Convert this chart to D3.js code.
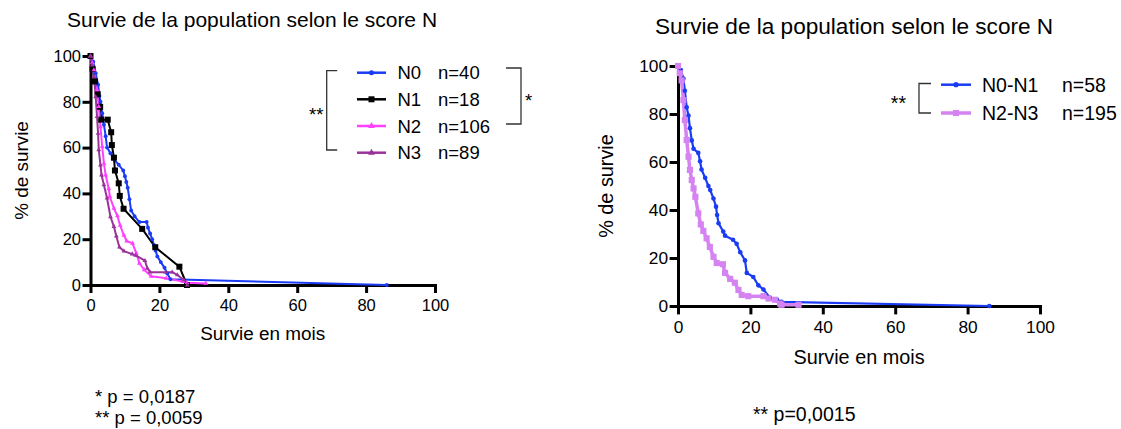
<!DOCTYPE html>
<html><head><meta charset="utf-8">
<script src="https://cdn.jsdelivr.net/npm/d3@7"></script>
<style>
body{margin:0;background:#fff;}
text{font-family:"Liberation Sans",Arial,Helvetica,sans-serif;fill:#000;}
</style>
</head><body>
<svg id="c" width="1121" height="429"></svg>
<script>
// ---------- data ----------
const xTicks = [0, 20, 40, 60, 80, 100];
const yTicks = [0, 20, 40, 60, 80, 100];
const titleText = "Survie de la population selon le score N";
const xLabel = "Survie en mois";
const yLabel = "% de survie";

const leftNames  = ["N0", "N1", "N2", "N3"];
const leftCounts = ["n=40", "n=18", "n=106", "n=89"];
const rightNames  = ["N0-N1", "N2-N3"];
const rightCounts = ["n=58", "n=195"];
const leftNotes  = ["* p = 0,0187", "** p = 0,0059"];
const rightNotes = ["** p=0,0015"];

// survival curves [months, % survival]
const leftN0 = [[0,100],[0.8,97.5],[1.5,92.5],[2.2,87.5],[2.6,82.5],[2.9,80],[3.4,75],[3.9,70],[4.4,65],[4.8,60],[5.8,57.5],[6.8,55],[8.2,52.5],[9.5,50],[10,47.5],[10.4,45],[10.8,42.5],[11.3,37.5],[11.8,32.5],[12.8,30],[14.2,27.5],[16.3,27.5],[16.7,25],[17.3,22.5],[17.9,20],[18.4,17.5],[18.9,15],[19.4,12.5],[20.4,10],[21.5,7.5],[22.3,5],[23.2,2.5],[86,0]];
const leftN1 = [[0,100],[0.6,94.4],[1.3,88.9],[2.1,83.3],[2.8,77.8],[3.1,72.2],[5,72.2],[6,66.7],[6.2,61.1],[6.8,55.6],[7.1,50],[8.2,44.4],[8.5,38.9],[9.6,33.3],[15,24.5],[18.8,16.5],[25.8,8],[28,0]];
const leftN2 = [[0,100],[0.5,97],[1,93.9],[1.9,85.2],[2.4,77.9],[2.9,69.1],[3.4,60.4],[3.9,53.1],[4.4,48],[5.3,42],[5.6,38.6],[6.8,33.5],[7.8,30.2],[8.6,26],[9.7,21.7],[10.5,19.2],[12.2,18.2],[13.3,13.8],[14.2,9.5],[15.6,6.6],[17.6,3.8],[22,2.9],[26.8,1.5],[28,1],[33.5,0.7]];
const leftN3 = [[0,100],[0.5,96],[1,91],[1.5,82.2],[1.9,73.5],[2.2,66.2],[2.4,59],[2.9,52.4],[3.2,48],[3.9,43.7],[4.8,37.9],[5.8,29.8],[6.8,25.5],[7.5,21.3],[8.4,16.5],[9.7,14.8],[12.1,13.5],[13.1,12.9],[15.8,10.6],[16.5,7.3],[17.3,5.6],[21.8,5.6],[23.7,5.6],[25.2,4.4],[27.1,2.2],[28.1,0]];
const rightN01 = [[0,100],[0.8,98.3],[1.5,94.8],[1.9,89.7],[2.4,82.8],[2.9,79.3],[3.3,74.1],[3.8,69],[4.3,65.5],[5.6,63.8],[6.1,60.3],[6.5,56.9],[7.5,53.4],[8.4,50],[8.9,48.3],[9.8,44.8],[10.5,41.4],[10.8,37.9],[11.2,34.5],[12.5,31],[13,29.3],[15.2,27.6],[16.2,25.9],[17.2,22.4],[18.5,19],[19,13.8],[20.8,12.1],[22.2,8.6],[23.6,6.9],[25.4,3.4],[27.3,2.7],[28.6,1.7],[86,0]];
const rightN23 = [[0,100],[0.5,97],[1,94],[1.5,85.8],[1.9,77.5],[2.4,69.2],[2.9,62.2],[3.3,56.7],[3.8,52.5],[4.3,49],[4.8,45.5],[5.6,38.6],[6.3,34],[7,31.3],[7.9,28.2],[8.8,24.6],[9.8,20.5],[10.7,17.9],[12.4,17.4],[13,13.8],[14.4,11.3],[15.7,9.7],[16.7,6.7],[17.6,4.6],[19.4,4.1],[23.6,4.1],[25,3.1],[26.8,2.6],[28.2,1],[28.6,0.5],[33.3,0.5]];

// ---------- drawing ----------
const svg = d3.select("#c");

const leftSeries = [
  {data: leftN0, color: "#1a3cf5", width: 2,   sym: d3.symbolCircle, size: 12},
  {data: leftN1, color: "#000000", width: 2,   sym: d3.symbolSquare, size: 36},
  {data: leftN2, color: "#ff40ff", width: 2,   sym: d3.symbolTriangle, size: 10},
  {data: leftN3, color: "#993399", width: 2,   sym: d3.symbolTriangle, size: 10}
];
const rightSeries = [
  {data: rightN01, color: "#1a3cf5", width: 2.2, sym: d3.symbolCircle, size: 16},
  {data: rightN23, color: "#d683f2", width: 3.5, sym: d3.symbolSquare, size: 36}
];

function drawChart(cfg) {
  const k = cfg.k;
  const x = d3.scaleLinear().domain([0, 100]).range([cfg.x0, cfg.x1]);
  const y = d3.scaleLinear().domain([0, 100]).range([cfg.y0, cfg.y1]);
  const g = svg.append("g");
  const tickFont = 16.5 * k;

  const xa = g.append("g").attr("transform", `translate(0,${cfg.y0})`)
    .call(d3.axisBottom(x).tickValues(xTicks).tickSize(8 * k).tickSizeOuter(0).tickPadding(6 * k));
  const ya = g.append("g").attr("transform", `translate(${cfg.x0},0)`)
    .call(d3.axisLeft(y).tickValues(yTicks).tickSize(8 * k).tickSizeOuter(0).tickPadding(1.5 * k));
  [xa, ya].forEach(a => {
    a.select(".domain").attr("stroke", "#000").attr("stroke-width", 3).attr("stroke-linecap", "square");
    a.selectAll(".tick line").attr("stroke", "#000").attr("stroke-width", 3);
    a.selectAll(".tick text").style("font-size", tickFont + "px")
      .style("font-family", '"Liberation Sans",Arial,sans-serif').attr("fill", "#000");
  });

  // titles
  const cx = (cfg.x0 + cfg.x1) / 2;
  g.append("text").attr("x", cfg.title.x).attr("y", cfg.title.y)
    .attr("text-anchor", "start").style("font-size", cfg.title.font + "px").text(titleText);
  g.append("text").attr("x", cx).attr("y", cfg.y0 + 55 * k)
    .attr("text-anchor", "middle").style("font-size", (18.9 * k) + "px").text(xLabel);
  const cy = (cfg.y0 + cfg.y1) / 2;
  const yx = cfg.x0 - 69 * k;
  g.append("text").attr("transform", `translate(${yx},${cy}) rotate(-90)`)
    .attr("text-anchor", "middle").attr("dy", "0.35em")
    .style("font-size", (18.9 * k) + "px").text(yLabel);

  // curves
  const line = d3.line().x(d => x(d[0])).y(d => y(d[1]));
  cfg.series.forEach(s => {
    g.append("path").datum(s.data).attr("d", line)
      .attr("fill", "none").attr("stroke", s.color).attr("stroke-width", s.width)
      .attr("stroke-linejoin", "round");
  });
  cfg.series.forEach(s => {
    g.append("g").selectAll("path").data(s.data).join("path")
      .attr("transform", d => `translate(${x(d[0])},${y(d[1])})`)
      .attr("d", d3.symbol().type(s.sym).size(s.size * k))
      .attr("fill", s.color);
  });

  // legend
  const L = cfg.legend;
  L.rows.forEach((ry, i) => {
    const s = cfg.series[i];
    g.append("line").attr("x1", L.lx0).attr("x2", L.lx1).attr("y1", ry).attr("y2", ry)
      .attr("stroke", s.color).attr("stroke-width", Math.max(2.5, s.width));
    g.append("path").attr("transform", `translate(${(L.lx0 + L.lx1) / 2},${ry})`)
      .attr("d", d3.symbol().type(s.sym).size(Math.max(s.size, 20) * k)).attr("fill", s.color);
    g.append("text").attr("x", L.tx).attr("y", ry + 0.36 * L.font)
      .style("font-size", L.font + "px").text(L.names[i]);
    g.append("text").attr("x", L.nx).attr("y", ry + 0.36 * L.font)
      .style("font-size", L.font + "px").text(L.counts[i]);
  });
  L.brackets.forEach(b => {
    const dir = b.side === "left" ? 1 : -1;
    g.append("path")
      .attr("d", `M${b.x + dir * b.w},${b.y0}H${b.x}V${b.y1}H${b.x + dir * b.w}`)
      .attr("fill", "none").attr("stroke", "#333").attr("stroke-width", 1.3);
    g.append("text").attr("x", b.lx).attr("y", (b.y0 + b.y1) / 2 + b.dy)
      .attr("text-anchor", b.side === "left" ? "end" : "start")
      .style("font-size", L.font + "px").text(b.label);
  });

  // notes
  cfg.notes.texts.forEach((t, i) => {
    g.append("text").attr("x", cfg.notes.x).attr("y", cfg.notes.y[i])
      .style("font-size", cfg.notes.font + "px").text(t);
  });
}

drawChart({
  k: 1, x0: 90.5, x1: 435, y0: 285, y1: 56, series: leftSeries,
  title: {x: 67, y: 27, font: 21},
  legend: {
    rows: [72.7, 99.3, 126, 152.7], lx0: 357, lx1: 386, tx: 397.5, nx: 438, font: 18.5,
    names: leftNames, counts: leftCounts,
    brackets: [
      {side: "left", x: 326.7, w: 10.5, y0: 70.7, y1: 150, lx: 323.5, dy: 11, label: "**"},
      {side: "right", x: 521, w: 15, y0: 68, y1: 124, lx: 525, dy: 11, label: "*"}
    ]
  },
  notes: {x: 95, y: [402.5, 423.5], font: 18.5, texts: leftNotes}
});

drawChart({
  k: 1.05, x0: 678, x1: 1040, y0: 306, y1: 66, series: rightSeries,
  title: {x: 655, y: 34, font: 22.6},
  legend: {
    rows: [84.7, 113], lx0: 941, lx1: 971, tx: 982, nx: 1062, font: 19.5,
    names: rightNames, counts: rightCounts,
    brackets: [
      {side: "left", x: 919, w: 12, y0: 83.5, y1: 113, lx: 906, dy: 11.5, label: "**"}
    ]
  },
  notes: {x: 753, y: [421], font: 19.5, texts: rightNotes}
});
</script>
</body></html>
